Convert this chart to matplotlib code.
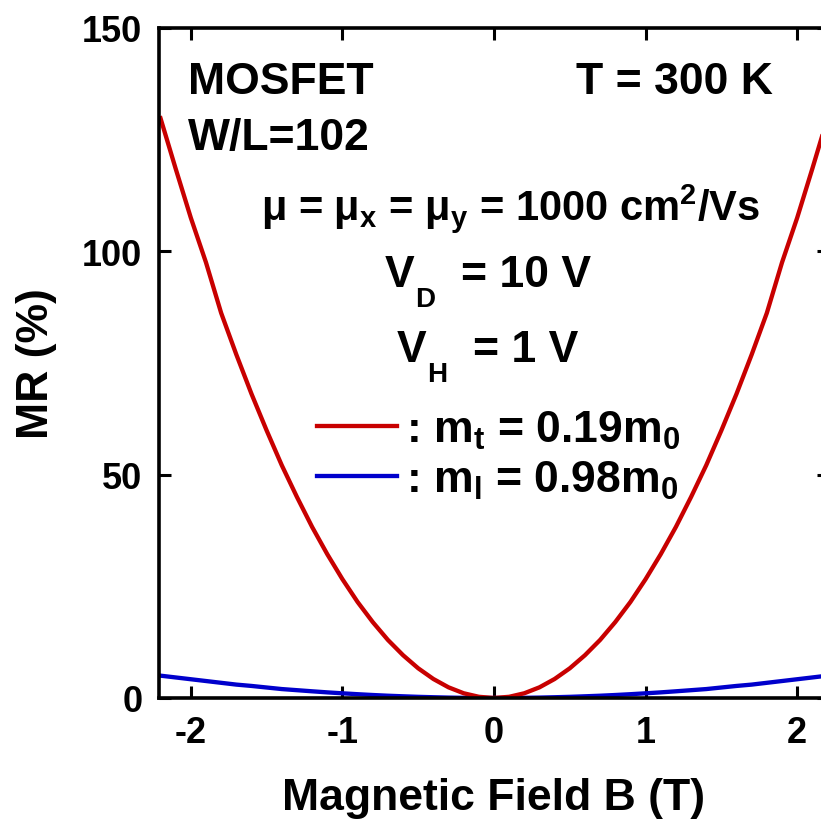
import numpy as np
import matplotlib
matplotlib.use("Agg")
import matplotlib.pyplot as plt

# ── MR vs B for a Si MOSFET (W/L = 102), two effective masses ────────────────
field_T = [-2.2, -2.1, -2.0, -1.9, -1.8, -1.7, -1.6, -1.5, -1.4, -1.3, -1.2, -1.1,
           -1.0, -0.9, -0.8, -0.7, -0.6, -0.5, -0.4, -0.3, -0.2, -0.1, 0.0,
           0.1, 0.2, 0.3, 0.4, 0.5, 0.6, 0.7, 0.8, 0.9, 1.0, 1.1, 1.2,
           1.3, 1.4, 1.5, 1.6, 1.7, 1.8, 1.9, 2.0, 2.1, 2.2]

mr_transverse = [129.8, 118.5, 107.5, 97.5, 86.2, 76.9, 68.1, 59.9, 52.1, 45.0, 38.3, 32.2,
                 26.6, 21.5, 17.0, 13.0, 9.58, 6.65, 4.26, 2.39, 1.06, 0.27, 0.0,
                 0.27, 1.06, 2.39, 4.26, 6.65, 9.58, 13.0, 17.0, 21.5, 26.6, 32.2, 38.3,
                 45.0, 52.1, 59.9, 68.1, 76.9, 86.2, 97.5, 107.5, 118.5, 129.8]

mr_longitudinal = [5.0, 4.6, 4.2, 3.8, 3.4, 3.0, 2.7, 2.35, 2.0, 1.75, 1.5, 1.26,
                   1.05, 0.85, 0.67, 0.51, 0.38, 0.26, 0.17, 0.09, 0.04, 0.01, 0.0,
                   0.01, 0.04, 0.09, 0.17, 0.26, 0.38, 0.51, 0.67, 0.85, 1.05, 1.26, 1.5,
                   1.75, 2.0, 2.35, 2.7, 3.0, 3.4, 3.8, 4.2, 4.6, 5.0]

x_ticks = [-2, -1, 0, 1, 2]
y_ticks = [0, 50, 100, 150]

RED = "#c80000"
BLUE = "#0000cc"

plt.rcParams["font.family"] = ["Liberation Sans", "DejaVu Sans"]
plt.rcParams["font.weight"] = "bold"
plt.rcParams["axes.unicode_minus"] = False
plt.rcParams["mathtext.fontset"] = "custom"
plt.rcParams["mathtext.rm"] = "Liberation Sans:bold"
plt.rcParams["mathtext.it"] = "Liberation Sans:bold"
plt.rcParams["mathtext.bf"] = "Liberation Sans:bold"
plt.rcParams["mathtext.sf"] = "Liberation Sans:bold"

fig = plt.figure(figsize=(8.21, 8.20), dpi=100)
ax = fig.add_axes([159 / 821, 1 - 699 / 820, 670 / 821, 670 / 820])

ax.plot(field_T, mr_longitudinal, color=BLUE, lw=3.1, label=r": m$_l$ = 0.98m$_0$")
ax.plot(field_T, mr_transverse, color=RED, lw=3.1, label=r": m$_t$ = 0.19m$_0$")

ax.set_xlim(-2.21, 2.21)
ax.set_ylim(0, 150)
ax.set_xticks(x_ticks)
ax.set_yticks(y_ticks)
ax.tick_params(direction="in", length=8.6, width=2.2, top=True, right=True,
               labelsize=26)
ax.tick_params(axis="x", pad=12)
ax.tick_params(axis="y", pad=12)
for sp in ax.spines.values():
    sp.set_linewidth(2.6)
for lab in ax.get_xticklabels() + ax.get_yticklabels():
    lab.set_fontweight("bold")

ax.set_xlabel("Magnetic Field B (T)", fontsize=32, fontweight="bold", labelpad=20)
ax.set_ylabel("MR (%)", fontsize=32, fontweight="bold", labelpad=18)

# ── Annotations ───────────────────────────────────────────────────────────────
fs = 32
ax.text(-2.02, 135.5, "MOSFET", fontsize=fs, fontweight="bold")
ax.text(-2.02, 122.9, "W/L=102", fontsize=fs, fontweight="bold")
ax.text(1.84, 135.4, "T = 300 K", fontsize=fs, fontweight="bold", ha="right")
ax.text(0.11, 107.2, r"μ = μ$_x$ = μ$_y$ = 1000 cm$^2$/Vs", fontsize=30,
        fontweight="bold", ha="center")


def subscripted(x, y, base, sub, rest):
    # big letter, a low subscript, then the rest of the line
    ax.text(x, y, base, fontsize=fs, fontweight="bold")
    ax.annotate(sub, (x, y), xytext=(21.5, -14.5), textcoords="offset points",
                fontsize=20, fontweight="bold")
    ax.annotate(rest, (x, y), xytext=(55, 0), textcoords="offset points",
                fontsize=fs, fontweight="bold")


subscripted(-0.72, 92.2, "V", "D", "= 10 V")
subscripted(-0.64, 75.4, "V", "H", "= 1 V")

handles, labels = ax.get_legend_handles_labels()
ax.legend(handles[::-1], labels[::-1], loc="upper left",
          bbox_to_anchor=((317 - 159) / 670, (699 - 410) / 670),
          frameon=False, fontsize=fs, handlelength=1.8, handletextpad=0.2,
          labelspacing=0.17, borderpad=0, borderaxespad=0)

fig.savefig("out.png", dpi=100)
